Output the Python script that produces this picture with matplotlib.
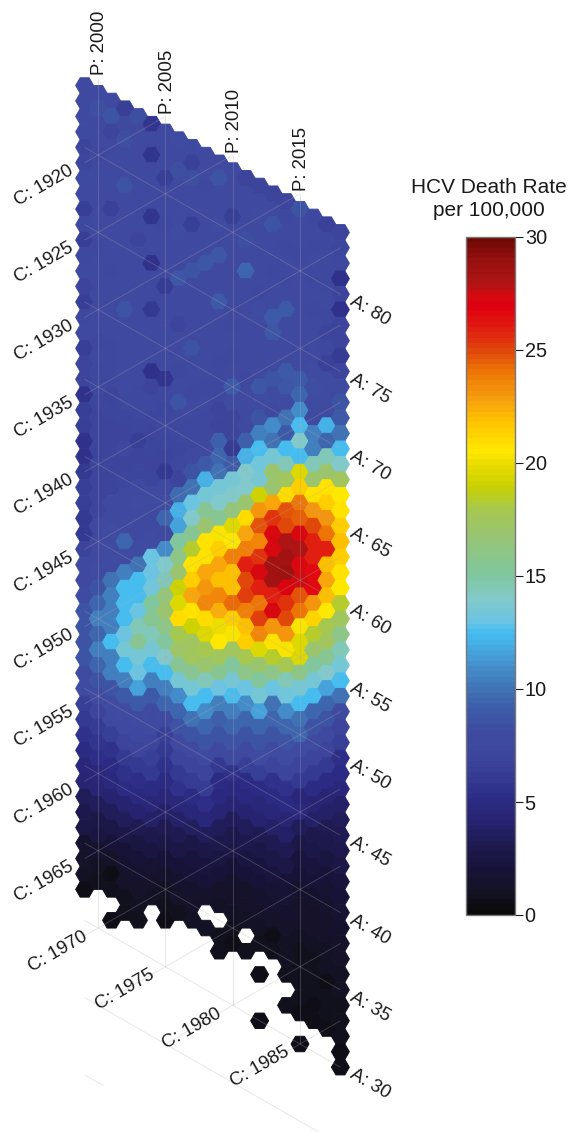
import numpy as np
import matplotlib
matplotlib.use("Agg")
import matplotlib.pyplot as plt
from matplotlib.collections import PolyCollection, LineCollection
from matplotlib.colors import LinearSegmentedColormap, Normalize
from matplotlib.cm import ScalarMappable

plt.rcParams['font.family'] = ['Liberation Sans', 'DejaVu Sans']
N = float('nan')

periods = list(range(1999, 2019))
ages = list(range(84, 29, -1))   # each list below runs from age 84 down to age 30

rate_1999 = [7.5,7.5,7.5,7.8,6.8,7.2,7.8,7.5,6.5,7.3,
 6.5,7.3,7.5,6.8,6.5,7.3,7.5,6.5,7.0,7.0,
 5.5,6.5,6.5,5.5,5.5,6.0,6.5,6.5,6.0,6.0,
 7.0,7.5,7.5,8.0,8.5,8.5,8.5,8.5,8.0,8.0,
 6.5,6.0,5.5,5.0,4.5,4.3,3.5,3.0,2.8,1.5,
 1.2,1.0,0.7,N,N]
rate_2000 = [7.8,8.3,7.6,7.5,7.4,7.8,7.5,7.7,7.6,7.5,
 7.4,7.5,7.6,7.5,7.6,7.5,7.3,7.5,7.4,7.3,
 7.2,6.8,7.0,6.8,6.8,7.0,7.0,7.0,7.5,7.5,
 7.5,8.0,8.5,9.5,10.5,9.5,10.5,9.5,8.5,8.0,
 7.0,6.2,5.8,5.2,4.5,4.3,3.5,2.8,2.4,1.5,
 1.1,0.8,N,N,N]
rate_2001 = [7.5,8.5,7.0,7.7,7.6,7.8,7.6,6.6,7.5,7.6,
 7.5,7.4,7.5,7.6,7.7,7.5,7.4,7.3,7.4,7.0,
 7.2,7.0,6.8,7.0,7.0,7.0,7.5,7.5,8.0,8.0,
 8.0,10,10.5,10.5,10.5,12.5,10.5,10.5,8.5,8.0,
 7.5,6.5,5.5,5.0,4.7,4.0,3.3,2.6,2.0,1.4,
 0.6,0.8,N,0.7,N]
rate_2002 = [6.4,7.6,8.3,7.8,7.6,8.6,7.7,7.5,7.6,7.8,
 7.6,7.5,7.6,8.6,7.8,7.6,7.5,7.6,7.5,7.3,
 7.2,7.0,7.3,7.0,7.2,7.5,7.5,7.5,9.5,8.0,
 10.5,12.5,12.5,12.5,13,13.5,12.5,10.5,9.0,8.0,
 7.5,7.0,6.0,5.5,5.0,4.0,3.4,2.6,2.1,1.6,
 1.2,0.9,0.8,N,N]
rate_2003 = [8.3,7.5,7.6,7.7,7.6,7.5,7.7,7.6,6.8,7.5,
 7.6,7.5,7.7,7.5,7.6,7.5,7.6,7.5,7.3,7.3,
 7.2,6.5,7.0,7.2,7.5,8.2,7.5,7.5,8.0,10,
 12.5,12.5,13,14.5,15.5,13.5,13,11.5,9.0,8.0,
 7.3,6.8,6.0,5.2,4.7,4.0,3.2,2.5,2.0,1.5,
 1.2,1.0,0.8,N,N]
rate_2004 = [5.8,7.6,5.8,7.5,7.6,7.5,5.8,7.5,7.6,5.6,
 7.5,7.6,6.0,7.5,7.6,7.5,5.6,7.0,7.4,7.2,
 7.0,7.2,7.0,7.2,8.0,7.5,7.5,8.0,13,13,
 13.2,15,15.5,14.5,13.5,12.5,10.5,9.0,8.0,7.5,
 7.2,6.5,6.0,5.0,4.5,3.8,3.0,2.4,1.8,1.4,
 1.1,N,N,N,N]
rate_2005 = [7.5,7.6,7.7,6.5,7.6,7.5,7.4,7.6,7.5,7.6,
 6.2,7.5,7.6,7.8,7.6,7.5,5.8,7.4,7.2,7.3,
 7.2,7.0,6.0,7.5,8.0,9.5,7.5,11,14,14.5,
 16.5,17,16,15,14,12.5,10.5,9.5,8.0,6.5,
 6.0,5.5,5.0,4.5,3.8,3.2,2.8,2.0,1.5,1.0,
 0.8,0.7,N,N,N]
rate_2006 = [8.0,7.6,8.3,7.6,7.5,7.6,8.2,7.6,7.5,8.8,
 7.6,7.5,6.9,7.6,7.5,7.4,7.5,8.5,7.4,7.3,
 7.2,7.3,7.0,9.7,12,11.5,15,16,17,19,
 19.5,21,18,17.3,15.5,13.5,11,9.5,8.5,7.5,
 7.0,6.0,5.5,4.5,3.8,3.2,2.6,2.0,1.5,1.2,
 0.9,N,N,N,N]
rate_2007 = [7.8,6.6,8.4,7.6,7.5,6.4,7.6,7.5,8.5,7.6,
 7.5,7.6,7.6,8.6,7.7,7.5,7.4,7.6,7.3,7.4,
 7.5,8.5,10,13,14,15.5,18.5,20.8,21.5,22.5,
 20.8,19,17.5,17.5,15.5,13.5,12.5,10,8.5,7.5,
 7.0,6.2,5.0,4.5,3.6,2.8,2.3,2.0,1.6,1.2,
 1.0,N,N,N,N]
rate_2008 = [7.5,7.6,7.4,7.5,7.6,7.5,7.8,8.8,7.6,7.5,
 7.6,7.8,7.5,7.6,7.5,7.4,7.5,7.4,7.3,7.5,
 9.0,12,13.5,15.5,17,20.8,20.8,22.5,23,23.5,
 21,19.5,18,17,14.5,12.5,11,9.5,8.5,7.8,
 7.0,6.2,5.2,4.5,3.5,2.8,2.3,2.0,1.4,N,
 1.1,N,N,N,N]
rate_2009 = [7.5,8.5,7.6,7.5,8.0,7.5,8.8,7.6,7.5,9.0,
 7.6,7.5,7.6,7.4,7.3,7.4,7.0,7.0,9.3,9.5,
 10,13.5,14,15.5,20.3,21.5,22.5,22,23.5,22.3,
 20,20.5,17.5,15.5,13,10.5,9.3,8.5,7.5,6.0,
 5.0,4.7,4.3,3.3,3.0,2.4,1.9,1.4,1.1,N,
 0.9,0.8,N,N,N]
rate_2010 = [7.6,7.5,7.6,6.5,7.5,7.6,7.5,7.7,7.5,7.6,
 7.4,7.5,7.4,7.5,9.0,8.0,7.0,7.0,6.3,9.0,
 13.5,14,16.5,19.5,20.5,23.8,22,22,24.3,21.5,
 20.2,17.5,15,13.5,12.5,10.5,9.5,8.5,7.5,5.6,
 4.8,4.3,3.3,3.0,2.7,2.0,1.5,1.2,1.0,0.8,
 0.7,N,N,N,N]
rate_2011 = [7.0,7.5,7.6,7.5,8.4,7.5,9.5,7.6,7.5,7.6,
 7.7,7.6,7.5,7.4,7.6,7.5,7.5,9.3,12,14,
 14,17,21,22.5,23.8,26,25,25.3,23.8,22,
 21.5,18,16,13,11,9.5,8.5,7.5,6.5,5.0,
 4.8,4.0,3.3,3.0,2.5,2.0,1.4,1.2,1.0,N,
 0.8,N,N,N,N]
rate_2012 = [7.0,7.5,8.2,7.6,7.5,7.6,7.5,7.4,8.0,7.5,
 7.6,7.5,7.6,8.8,8.0,8.5,10.5,12.5,13.3,13.5,
 19,23,24.8,23.5,25.5,27.2,26,24,25.3,23.5,
 19.5,17,15,13.5,11.5,9.5,8.5,8.0,6.5,5.0,
 4.5,4.0,3.2,2.8,2.2,1.9,1.6,1.2,1.0,0.9,
 N,0.6,N,N,0.6]
rate_2013 = [7.0,7.5,8.6,7.6,7.5,7.4,7.5,7.6,9.0,8.8,
 7.6,7.5,8.5,8.0,7.5,11,10,13.4,17,17,
 22.5,25.5,27.2,27.3,28.5,28.5,26,27.3,23,20.8,
 18.5,16,13,10,9.5,8.5,8.0,7.0,5.5,5.0,
 4.6,3.8,3.2,2.8,2.2,1.8,1.6,1.4,0.6,0.8,
 N,N,N,N,N]
rate_2014 = [6.8,7.3,7.5,7.4,7.5,7.4,7.5,9.0,7.8,7.6,
 7.6,9.0,8.8,8.0,10,9.0,12.5,14.5,17.5,21,
 24.7,25,28,28.5,28.7,27,25.5,25,23,20.3,
 18,14.5,13.2,11,9.5,8.5,8.0,7.0,5.5,5.0,
 4.4,3.8,3.1,2.6,2.0,1.7,1.5,1.3,1.1,1.0,
 0.8,N,0.8,N,N]
rate_2015 = [8.5,7.6,7.5,7.4,7.5,7.6,7.5,7.6,7.5,7.5,
 7.5,9.0,9.5,11,12.5,14,12.5,19.5,21.5,24,
 24.5,27.2,28,27.3,27.5,24.8,24,20.3,19.5,19.5,
 16,13.5,12.5,10,9.5,8.0,7.0,6.0,4.5,4.8,
 3.5,2.8,2.2,2.0,1.5,1.3,1.2,1.0,0.9,0.9,
 0.8,0.8,0.7,N,0.6]
rate_2016 = [7.3,7.5,7.4,7.5,7.3,7.5,7.4,7.5,7.6,7.5,
 8.0,8.3,8.0,8.0,10.5,10.5,14.3,17,20.8,23,
 25,26,26,26.5,26.5,23,21.3,18.5,17,15,
 13.5,12.5,9.5,8.5,8.0,7.0,6.0,5.0,4.3,3.8,
 3.0,2.6,2.2,1.9,1.6,1.4,1.2,1.0,0.9,0.9,
 0.8,0.7,0.7,N,N]
rate_2017 = [6.6,7.4,7.5,7.3,7.4,7.5,7.4,6.9,7.4,6.6,
 8.0,8.0,8.0,12,9.5,14.5,17,20.8,21.5,23,
 24,25.8,22,22.5,22,20.5,18,17.5,15.5,14,
 11.5,9.5,8.5,7.5,7.0,6.0,5.0,4.4,3.8,3.2,
 2.9,2.5,2.1,1.8,1.5,1.3,1.2,1.1,1.0,0.6,
 0.9,0.8,0.7,N,N]
rate_2018 = [6.8,7.2,7.4,5.4,7.0,5.6,7.0,7.0,6.3,7.0,
 8.0,8.5,9.0,10,12.5,14,17.5,20.5,20.8,21.5,
 22,21.5,20.8,20.5,18.5,17.5,16,14.5,13.5,12.5,
 10,8.0,7.0,6.5,5.2,5.0,4.5,3.8,3.3,3.2,
 3.0,2.7,2.2,2.0,1.7,1.5,1.4,1.2,1.1,1.0,
 0.9,0.9,0.8,0.7,0.6]

rate_columns = [rate_1999, rate_2000, rate_2001, rate_2002, rate_2003, rate_2004,
                rate_2005, rate_2006, rate_2007, rate_2008, rate_2009, rate_2010,
                rate_2011, rate_2012, rate_2013, rate_2014, rate_2015, rate_2016,
                rate_2017, rate_2018]

period_ticks = [2000, 2005, 2010, 2015]
cohort_ticks = [1920, 1925, 1930, 1935, 1940, 1945, 1950, 1955, 1960, 1965,
                1970, 1975, 1980, 1985]
age_ticks = [30, 35, 40, 45, 50, 55, 60, 65, 70, 75, 80]
bar_ticks = [0, 5, 10, 15, 20, 25, 30]

cmap_values = [0, 1, 2, 3, 4, 5, 6, 7, 8, 9, 10, 11, 12, 12.5, 13, 14, 15, 16, 17, 18,
               19, 20, 20.5, 21, 22, 23, 24, 25, 26, 27, 27.5, 28, 29, 30]
cmap_colors = ['#0a0a0a', '#141225', '#17133a', '#1e1a50', '#262370', '#2c2b85', '#353a93',
               '#3d469d', '#3e4ba0', '#3d5aa8', '#4074b5', '#4590cc', '#45b0e6', '#45bdf0',
               '#6cc5e2', '#82c9c9', '#80c7a0', '#8cc688', '#9bc56d', '#a8c84e', '#c9d100',
               '#eadc00', '#ffe900', '#ffdc00', '#fdbf00', '#f59a10', '#ee7a05', '#e04a0a',
               '#e01e10', '#e00010', '#d50a10', '#b01515', '#9a1010', '#6f0a05']

W, H = 568, 1132
fig = plt.figure(figsize=(W / 100, H / 100), dpi=100, facecolor='white')
ax = fig.add_axes([0, 0, 1, 1])

# horizontal: period; vertical: age sheared so that period and age lines meet at 60 degrees
PX_PER_YEAR = 13.46
PX_PER_AGE = 15.46
ax.set_xlim(2015 - 300 / PX_PER_YEAR, 2015 + (W - 300) / PX_PER_YEAR)
ax.set_ylim(30 - (H - 1044) / PX_PER_AGE, 30 + 1044 / PX_PER_AGE)
ax.axis('off')


def vpos(period, age):
    return age - (period - 2015) / 2


hex_dx = np.array([2, 1, -1, -2, -1, 1]) / 3
hex_dy = np.array([0, 1, 1, 0, -1, -1]) / 2

cmap = LinearSegmentedColormap.from_list(
    'hcv', [(v / 30, c) for v, c in zip(cmap_values, cmap_colors)], N=128)
norm = Normalize(0, 30)

verts, vals = [], []
for period, column in zip(periods, rate_columns):
    for age, rate in zip(ages, column):
        if np.isnan(rate):
            continue
        verts.append(np.column_stack([period + hex_dx, vpos(period, age) + hex_dy]))
        vals.append(rate)
hexes = PolyCollection(verts, array=np.array(vals), cmap=cmap, norm=norm,
                       edgecolors='face', linewidths=0.7, zorder=1)
ax.add_collection(hexes)

# Lexis grid
segs = []
for p in period_ticks:
    segs.append([(p, vpos(p, 30)), (p, vpos(p, 85))])
for a in age_ticks + [25]:
    p_end = 2018 if a >= 30 else 2016.5
    segs.append([(1999, vpos(1999, a)), (p_end, vpos(p_end, a))])
segs.append([(1999, vpos(1999, 20)), (2000.4, vpos(2000.4, 20))])
for c in cohort_ticks:
    p0 = max(1999, c + 30)
    p1 = min(2018, c + 85)
    segs.append([(p0, vpos(p0, p0 - c)), (p1, vpos(p1, p1 - c))])
    p2 = max(1999, c + 25)
    if c + 30 > 1999:
        segs.append([(p2, vpos(p2, p2 - c)), (p0, vpos(p0, p0 - c))])
ax.add_collection(LineCollection(segs, colors='#b4aab4', alpha=0.3, linewidths=0.65, zorder=2))

tc = '#1a1a1a'
fs = 13.4
for p in period_ticks:
    ax.text(p + 0.14, vpos(p, 85) + 0.15, f'P: {p}', rotation=90, ha='center', va='bottom',
            fontsize=fs, color=tc)
for c in cohort_ticks:
    p = max(1999, c + 30) - 0.9
    ax.text(p, vpos(p, p - c), f'C: {c}', rotation=30, rotation_mode='anchor',
            ha='right', va='center', fontsize=fs, color=tc)
for a in age_ticks:
    p = 2018.8
    ax.text(p, vpos(p, a), f'A: {a}', rotation=-30, rotation_mode='anchor',
            ha='left', va='center', fontsize=fs, color=tc)

# colour bar
cax = fig.add_axes([466 / W, 1 - 915 / H, (515 - 466) / W, (915 - 237) / H])
cb = fig.colorbar(ScalarMappable(norm=norm, cmap=cmap), cax=cax, ticks=bar_ticks)
cb.ax.tick_params(length=5.5, width=0.8, labelsize=14.3, pad=1.5, colors=tc)
cb.outline.set_edgecolor('#777777')
cb.outline.set_linewidth(1.0)
fig.text(489 / W, 1 - 187 / H, 'HCV Death Rate', ha='center', va='center', fontsize=15, color=tc)
fig.text(489 / W, 1 - 211 / H, 'per 100,000', ha='center', va='center', fontsize=15, color=tc)

fig.savefig('out.png', dpi=100)
